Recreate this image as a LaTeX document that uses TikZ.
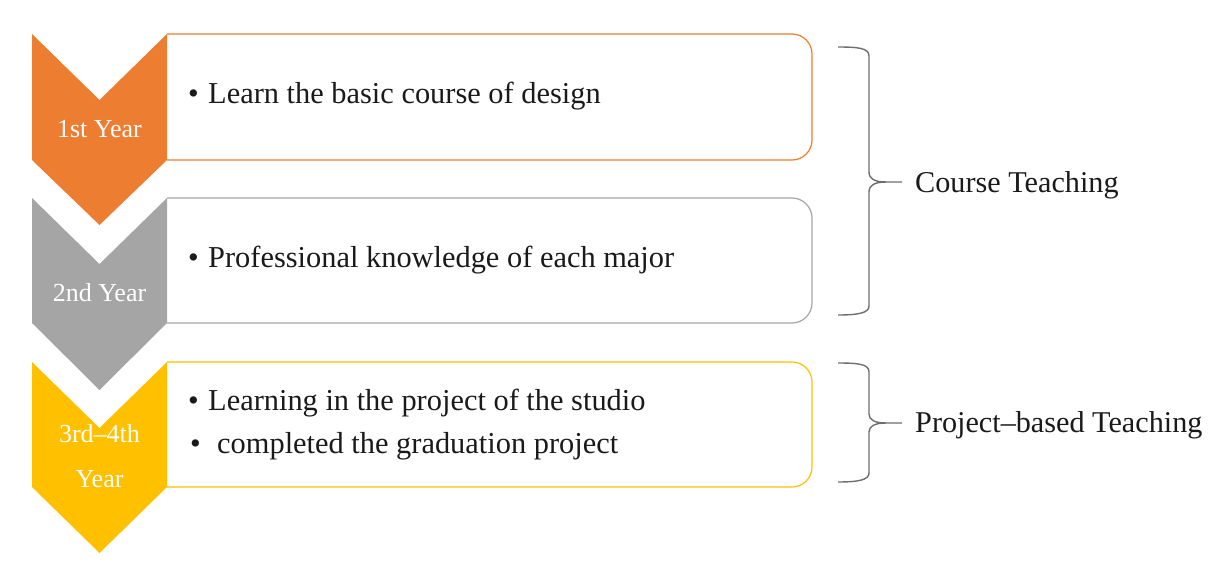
\documentclass[tikz,border=0pt]{standalone}
\usepackage{fontspec}
\setmainfont{Liberation Serif}
\definecolor{cOrange}{HTML}{ED7D31}
\definecolor{cGray}{HTML}{A5A5A5}
\definecolor{cGold}{HTML}{FFC000}
\definecolor{cBrace}{HTML}{6E6E6E}
\definecolor{cText}{HTML}{1A1A1A}
\tikzset{
  boxline/.style={line width=1.2pt},
  chevlabel/.style={text=white, font=\fontsize{26}{30}\selectfont, anchor=base, inner sep=0pt},
  itemtext/.style={text=cText, font=\fontsize{30.4}{36}\selectfont, anchor=base west, inner sep=0pt},
  bracelabel/.style={text=cText, font=\fontsize{30.2}{36}\selectfont, anchor=base west, inner sep=0pt},
  bracepath/.style={draw=cBrace, line width=1.4pt}
}
\begin{document}
\begin{tikzpicture}[x=1pt,y=-1pt]
\useasboundingbox (0,0) rectangle (1220,576);
% boxes
\draw[boxline, draw=cOrange] (167,34) -- (792,34) .. controls (803,34) and (812,43) .. (812,54) -- (812,140) .. controls (812,151) and (803,160) .. (792,160) -- (167,160);
\draw[boxline, draw=cGray] (167,198) -- (792,198) .. controls (803,198) and (812,207) .. (812,218) -- (812,303) .. controls (812,314) and (803,323) .. (792,323) -- (167,323);
\draw[boxline, draw=cGold] (167,362) -- (792,362) .. controls (803,362) and (812,371) .. (812,382) -- (812,467) .. controls (812,478) and (803,487) .. (792,487) -- (167,487);
% chevrons
\fill[cOrange] (32,34) -- (99.5,100) -- (167,34) -- (167,160) -- (99.5,225) -- (32,160) -- cycle;
\fill[cGray] (32,198) -- (99.5,264) -- (167,198) -- (167,323) -- (99.5,390) -- (32,323) -- cycle;
\fill[cGold] (32,362) -- (99.5,428) -- (167,362) -- (167,487) -- (99.5,553) -- (32,487) -- cycle;
% chevron labels
\node[chevlabel] (y1) at (99.5,137) {1st Year};
\node[chevlabel] (y2) at (99.5,301) {2nd Year};
\node[chevlabel] (y3a) at (99.5,442) {3rd--4th};
\node[chevlabel] (y3b) at (99.5,487) {Year};
% items
\node[itemtext] (b1) at (188,103) {•};
\node[itemtext] (t1) at (208,103) {Learn the basic course of design};
\node[itemtext] (b2) at (188,267) {•};
\node[itemtext] (t2) at (208,267) {Professional knowledge of each major};
\node[itemtext] (b3) at (188,410) {•};
\node[itemtext] (t3) at (208,410) {Learning in the project of the studio};
\node[itemtext] (b4) at (190,453) {•};
\node[itemtext] (t4) at (217,453) {completed the graduation project};
% braces
\draw[bracepath] (838,47) .. controls (858,47) and (869,48) .. (869,56) -- (869,172) .. controls (869,179) and (875,182) .. (886,182) -- (902,182);
\draw[bracepath] (886,182) .. controls (875,182) and (869,185) .. (869,192) -- (869,306) .. controls (869,313) and (858,315) .. (838,315);
\draw[bracepath] (838,363) .. controls (858,363) and (869,364) .. (869,372) -- (869,414) .. controls (869,420) and (875,423) .. (886,423) -- (902,423);
\draw[bracepath] (886,423) .. controls (875,423) and (869,426) .. (869,432) -- (869,473) .. controls (869,480) and (858,482) .. (838,482);
% brace labels
\node[bracelabel] (l1) at (915,192) {Course Teaching};
\node[bracelabel] (l2) at (915,432) {Project--based Teaching};
\end{tikzpicture}
\end{document}
